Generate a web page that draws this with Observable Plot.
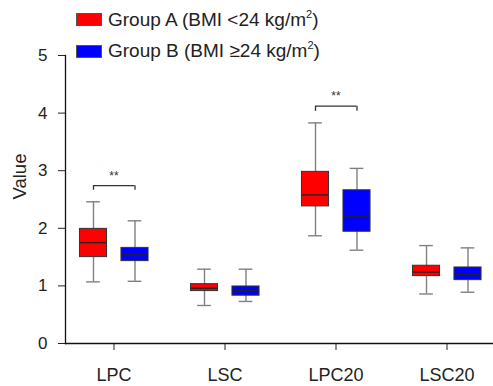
<!DOCTYPE html>
<html><head><meta charset="utf-8">
<script src="https://cdn.jsdelivr.net/npm/d3@7"></script>
<script src="https://cdn.jsdelivr.net/npm/@observablehq/plot@0.6"></script>
<style>
body{margin:0;background:#fff;font-family:"Liberation Sans",Arial,sans-serif;}
#wrap{position:relative;width:493px;height:386px;}
#legend{position:absolute;left:76px;top:4px;font-size:19px;color:#222;font-family:"Liberation Sans",Arial,sans-serif;}
.item{display:flex;align-items:center;height:31.5px;white-space:nowrap;}
.sw{width:24px;height:11px;border:1px solid #555;margin-right:6px;flex:none;}
.lab{display:inline-block;}
.sp{font-size:11px;position:relative;top:-8px;}
</style></head>
<body><div id="wrap"><div id="chart"></div>
<div id="legend">
<div class="item"><span class="sw" style="background:#ff0000"></span><span class="lab">Group A (BMI &lt;24 kg/m<span class="sp">2</span>)</span></div>
<div class="item"><span class="sw" style="background:#0000ff"></span><span class="lab">Group B (BMI ≥24 kg/m<span class="sp">2</span>)</span></div>
</div></div>
<script>
const categories = ["LPC", "LSC", "LPC20", "LSC20"];
const groups = ["Group A", "Group B"];
const aMin = [1.07, 0.66, 1.87, 0.86];
const aQ1  = [1.50, 0.91, 2.38, 1.17];
const aMed = [1.75, 0.96, 2.58, 1.24];
const aQ3  = [1.99, 1.03, 2.98, 1.35];
const aMax = [2.46, 1.29, 3.83, 1.70];
const bMin = [1.08, 0.73, 1.62, 0.89];
const bQ1  = [1.43, 0.83, 1.94, 1.10];
const bMed = [1.54, 0.92, 2.21, 1.20];
const bQ3  = [1.66, 0.99, 2.66, 1.32];
const bMax = [2.13, 1.29, 3.04, 1.66];
const sigCategories = ["LPC", "LPC20"];
const sigTop = [2.74, 4.12];
const sigBottom = [2.66, 4.03];
const sigLabel = ["**", "**"];
const yTicks = [0, 1, 2, 3, 4, 5];

const rowsA = categories.map((c, i) => ({cat: c, group: groups[0], min: aMin[i], q1: aQ1[i], med: aMed[i], q3: aQ3[i], max: aMax[i]}));
const rowsB = categories.map((c, i) => ({cat: c, group: groups[1], min: bMin[i], q1: bQ1[i], med: bMed[i], q3: bQ3[i], max: bMax[i]}));
const sig = sigCategories.map((c, i) => ({cat: c, top: sigTop[i], bottom: sigBottom[i], label: sigLabel[i]}));

const xRange = [57.7, 503];
const bw = (xRange[1] - xRange[0]) / categories.length;
const off = {A: -20.5, B: 21};
const half = 13.7, capHalf = 7;
const ins = (o, h) => ({insetLeft: bw / 2 + o - h, insetRight: bw / 2 - o - h});
const FONT = "'Liberation Sans', Arial, sans-serif";

function boxMarks(rows, o, color) {
  return [
    Plot.ruleX(rows, {x: "cat", y1: "min", y2: "max", dx: o, stroke: "#808080", strokeWidth: 1.4}),
    Plot.tickY(rows, {x: "cat", y: "min", ...ins(o, capHalf), stroke: "#808080", strokeWidth: 1.4}),
    Plot.tickY(rows, {x: "cat", y: "max", ...ins(o, capHalf), stroke: "#808080", strokeWidth: 1.4}),
    Plot.barY(rows, {x: "cat", y1: "q1", y2: "q3", ...ins(o, half), fill: color, stroke: "#333", strokeWidth: 1}),
    Plot.tickY(rows, {x: "cat", y: "med", ...ins(o, half - 0.5), stroke: "#222", strokeWidth: 1.3})
  ];
}

const chart = Plot.plot({
  width: 493, height: 386,
  marginTop: 55, marginBottom: 43, marginLeft: 65, marginRight: 0,
  style: {fontFamily: FONT, color: "#222", background: "#fff"},
  x: {domain: categories, range: xRange, padding: 0, label: null},
  y: {domain: [0, 5], ticks: yTicks, label: null},
  marks: [
    Plot.axisX({tickSize: 7, tickPadding: 18, fontSize: 18, label: null, fontFamily: FONT}),
    Plot.axisY({ticks: yTicks, tickFormat: d3.format("d"), tickSize: 7, tickPadding: 11, fontSize: 17, label: null, fontFamily: FONT}),
    Plot.text(["Value"], {frameAnchor: "left", rotate: -90, dx: -45, fontSize: 18.5, fill: "#222", fontFamily: FONT}),
    Plot.frame({anchor: "left", stroke: "#111", strokeWidth: 1.3}),
    Plot.ruleY([0], {stroke: "#111", strokeWidth: 1.3}),
    ...boxMarks(rowsA, off.A, "#ff0000"),
    ...boxMarks(rowsB, off.B, "#0000ff"),
    Plot.tickY(sig, {x: "cat", y: "top", insetLeft: bw / 2 + off.A, insetRight: bw / 2 - off.B, stroke: "#333", strokeWidth: 1.3}),
    Plot.ruleX(sig, {x: "cat", y1: "bottom", y2: "top", dx: off.A, stroke: "#333", strokeWidth: 1.3}),
    Plot.ruleX(sig, {x: "cat", y1: "bottom", y2: "top", dx: off.B, stroke: "#333", strokeWidth: 1.3}),
    Plot.text(sig, {x: "cat", y: "top", text: "label", dy: -10, fontSize: 12, fill: "#333", fontFamily: FONT})
  ]
});
document.getElementById("chart").appendChild(chart);
</script></body></html>
